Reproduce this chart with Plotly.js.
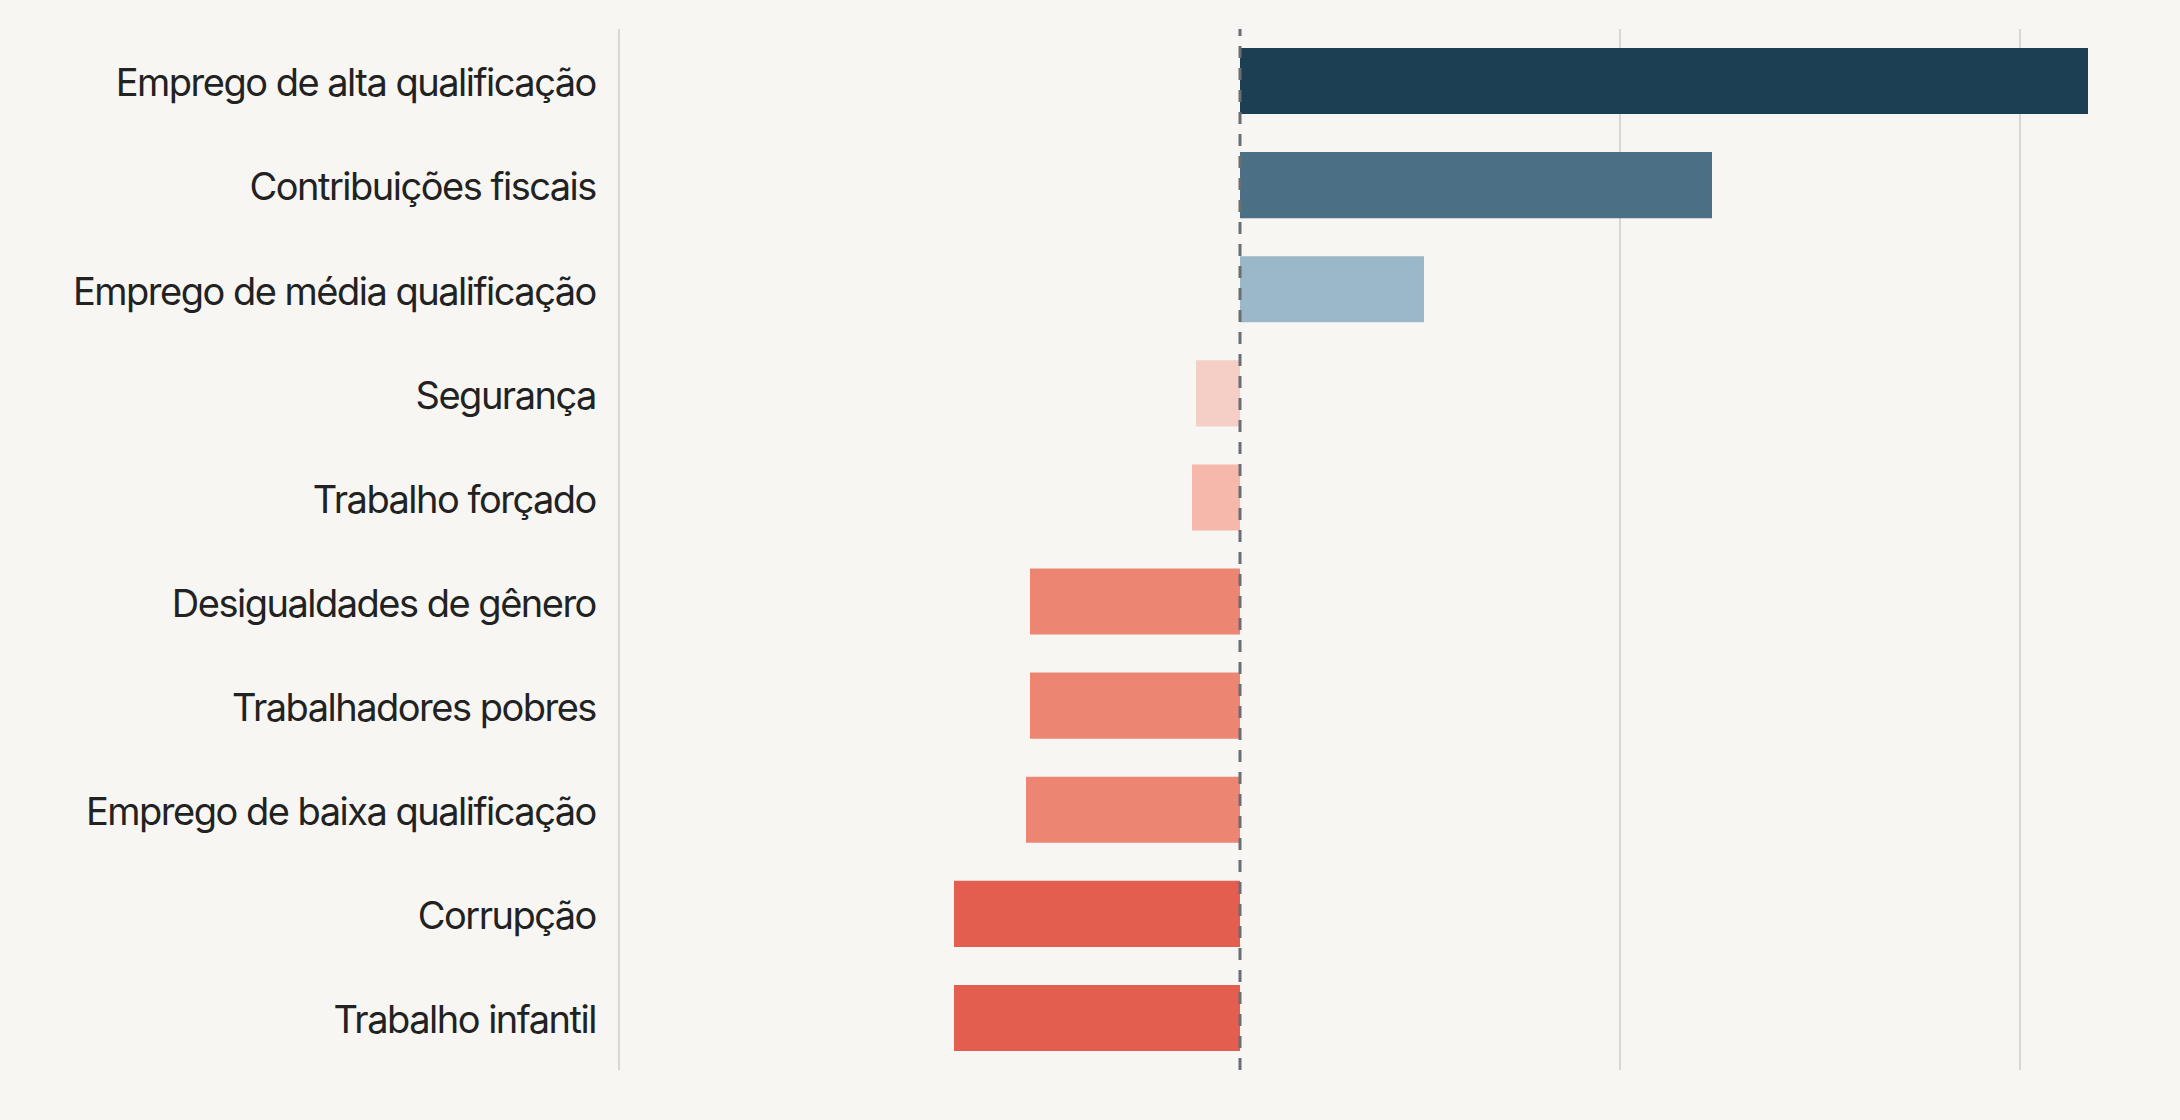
<!DOCTYPE html>
<html>
<head>
<meta charset="utf-8">
<script src="https://cdn.plot.ly/plotly-3.0.1.min.js"></script>
<style>
  html, body { margin: 0; padding: 0; background: #f7f6f3; }
  #chart { width: 2180px; height: 1120px; }
  #chart .ytick text { letter-spacing: -1.5px; }
</style>
</head>
<body>
<div id="chart"></div>
<script>
const categories = [
  "Emprego de alta qualificação",
  "Contribuições fiscais",
  "Emprego de média qualificação",
  "Segurança",
  "Trabalho forçado",
  "Desigualdades de gênero",
  "Trabalhadores pobres",
  "Emprego de baixa qualificação",
  "Corrupção",
  "Trabalho infantil"
];
const values = [212, 118, 46, -11, -12, -52.5, -52.5, -53.5, -71.5, -71.5];
const barColors = [
  "#1d3f54", "#4b7086", "#9bb8c9", "#f5cfc6", "#f5b8ab",
  "#ec8572", "#ec8572", "#ec8572", "#e35e4e", "#e35e4e"
];
const gridValues = [95, 195];

const trace = {
  type: "bar",
  orientation: "h",
  y: categories,
  x: values,
  width: 0.635,
  marker: { color: barColors, line: { width: 0 } },
  hoverinfo: "skip"
};

const layout = {
  width: 2180,
  height: 1120,
  paper_bgcolor: "#f7f6f3",
  plot_bgcolor: "#f7f6f3",
  margin: { l: 620, r: 40, t: 29, b: 50 },
  showlegend: false,
  font: { family: "Inter, 'Noto Sans', sans-serif", color: "#222222" },
  xaxis: {
    range: [-155, 225],
    tickvals: gridValues,
    showticklabels: false,
    showgrid: true,
    gridcolor: "#d9d7d1",
    gridwidth: 2.5,
    zeroline: false,
    showline: false,
    ticks: ""
  },
  yaxis: {
    type: "category",
    categoryorder: "array",
    categoryarray: categories,
    range: [9.5, -0.5],
    showgrid: false,
    zeroline: false,
    showline: true,
    linecolor: "#d9d7d1",
    linewidth: 2.5,
    ticks: "",
    ticklabelstandoff: 14,
    ticklabelshift: -2,
    tickfont: { family: "Inter, 'Noto Sans', sans-serif", size: 38, color: "#222222" }
  },
  shapes: [{
    type: "line",
    xref: "x", yref: "paper",
    x0: 0, x1: 0, y0: 0, y1: 1,
    layer: "above",
    line: { color: "#6a6d72", width: 3, dash: "12px,10px" }
  }]
};

Plotly.newPlot("chart", [trace], layout, { displayModeBar: false, staticPlot: true });
</script>
</body>
</html>
